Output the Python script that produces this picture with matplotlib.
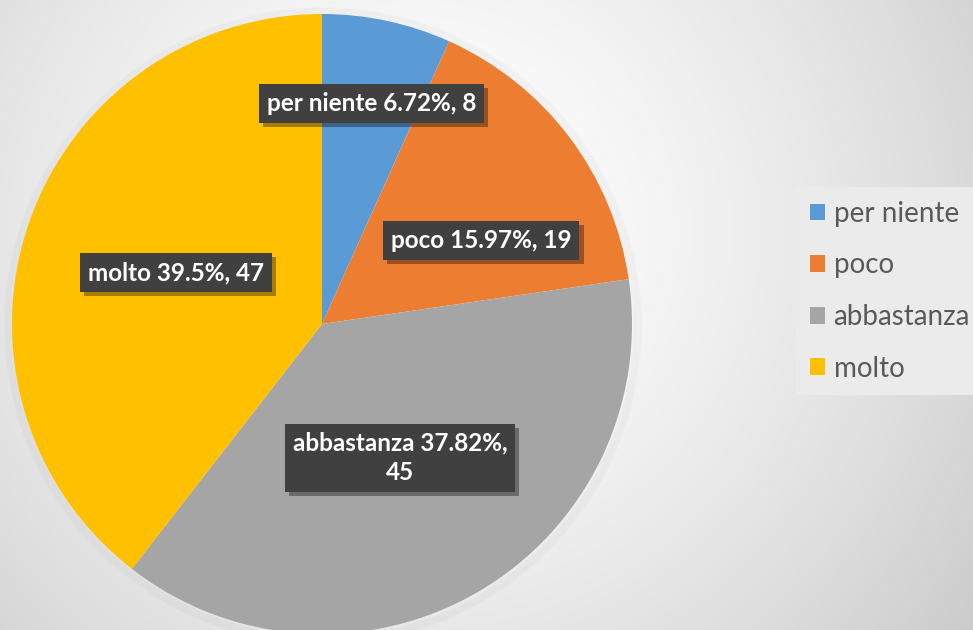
import numpy as np
import matplotlib
matplotlib.use("Agg")
import matplotlib.pyplot as plt
import matplotlib.patheffects as pe
from matplotlib.patches import Patch, Circle

# ---- data ----
categories = ["per niente", "poco", "abbastanza", "molto"]
counts = [8, 19, 45, 47]
colors = ["#5B9BD5", "#ED7D31", "#A5A5A5", "#FFC000"]

# label layout (radial fraction of radius, clockwise shift in degrees)
label_r = [0.73, 0.58, 0.50, 0.50]
label_shift = [0.6, 9.4, 0.0, 0.5]

W, H = 973, 630
fig = plt.figure(figsize=(W / 100, H / 100), dpi=100)
ax = fig.add_axes([0, 0, 1, 1])
ax.set_xlim(0, W)
ax.set_ylim(0, H)
ax.axis("off")

# radial gradient background
yy, xx = np.mgrid[0:H, 0:W]
d = np.hypot(xx - 420, yy - 230) / 700.0
val = np.clip(1.0 - 0.21 * d ** 1.5, 0, 1)
img = np.dstack([val, val, val])
ax.imshow(img, extent=(0, W, 0, H), origin="upper", zorder=0, aspect="auto")

cx, cy, R = 322, 306, 310

# soft shadow around pie
for k in range(8):
    ax.add_patch(Circle((cx + 1, cy - 2), R + 1 + k, facecolor="none",
                        edgecolor=(0, 0, 0, 0.012), linewidth=1.5, zorder=1))

wedges, _ = ax.pie(counts, colors=colors, startangle=90, counterclock=False,
                   center=(cx, cy), radius=R, frame=True,
                   wedgeprops=dict(linewidth=0, zorder=2))
ax.set_xlim(0, W)
ax.set_ylim(0, H)
ax.axis("off")

total = sum(counts)
font = ["Lato", "DejaVu Sans"]
for i, w in enumerate(wedges):
    pct = counts[i] / total * 100
    pct_txt = f"{pct:.2f}".rstrip("0").rstrip(".")
    if categories[i] == "abbastanza":
        txt = f"{categories[i]} {pct_txt}%,\n{counts[i]}"
    else:
        txt = f"{categories[i]} {pct_txt}%, {counts[i]}"
    mid = np.deg2rad((w.theta1 + w.theta2) / 2 - label_shift[i])
    x = cx + label_r[i] * R * np.cos(mid)
    y = cy + label_r[i] * R * np.sin(mid)
    t = ax.text(x, y, txt, ha="center", va="center", color="white",
                fontsize=17.5, fontweight="bold", family=font,
                linespacing=1.35, zorder=5,
                bbox=dict(boxstyle="square,pad=0.32", facecolor="#404040",
                          edgecolor="none"))
    t.get_bbox_patch().set_path_effects(
        [pe.withSimplePatchShadow(offset=(3, -3), shadow_rgbFace="black", alpha=0.35)])

handles = [Patch(facecolor=c, edgecolor="none") for c in colors]
leg = fig.legend(handles, categories, loc="upper left",
                 bbox_to_anchor=(796 / W, 1 - 187 / H),
                 frameon=True, fancybox=False, edgecolor="none",
                 facecolor="#ebebeb", framealpha=1.0,
                 prop=dict(family=font, size=20),
                 handlelength=0.55, handleheight=0.55, handletextpad=0.3,
                 labelspacing=0.92, borderpad=0.5, borderaxespad=0)
for txt in leg.get_texts():
    txt.set_color("#595959")

fig.savefig("out.png", dpi=100)
